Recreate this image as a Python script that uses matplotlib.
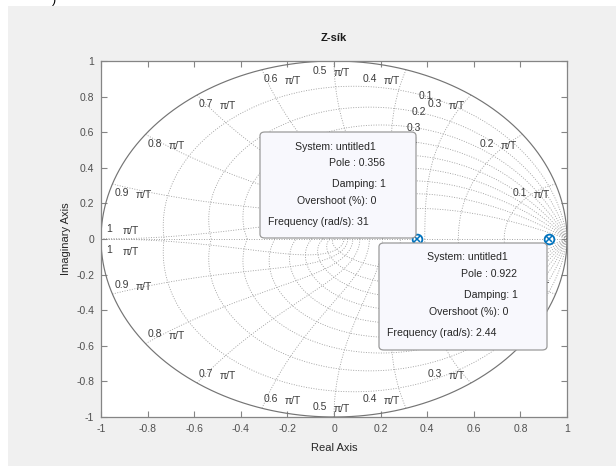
import numpy as np
import matplotlib
matplotlib.use("Agg")
import matplotlib.pyplot as plt
from matplotlib.patches import Rectangle, FancyBboxPatch

plt.rcParams['font.family'] = ['Liberation Sans', 'DejaVu Sans']
plt.rcParams['axes.unicode_minus'] = False

# --- données ---
pole_values = [0.356, 0.922]
pole_damping = ["1", "1"]
pole_overshoot = ["0", "0"]
pole_freq = ["31", "2.44"]
system_name = "untitled1"

zeta_grid = [0.1, 0.2, 0.3, 0.4, 0.5, 0.6, 0.7, 0.8, 0.9]
wn_grid = [0.1, 0.2, 0.3, 0.4, 0.5, 0.6, 0.7, 0.8, 0.9, 1.0]
ticks = [-1, -0.8, -0.6, -0.4, -0.2, 0, 0.2, 0.4, 0.6, 0.8, 1]
tick_labels = ["-1", "-0.8", "-0.6", "-0.4", "-0.2", "0", "0.2", "0.4", "0.6", "0.8", "1"]

W, H = 616, 466
def px(x, y):
    # pixels -> fraction de la figure
    return x / W, 1 - y / H

fig = plt.figure(figsize=(W / 100, H / 100), dpi=100, facecolor='white')
fig.patches.append(Rectangle(px(8, 466), 1, (466 - 6) / H, transform=fig.transFigure,
                             facecolor='#f0f0f0', edgecolor='none', zorder=-10))
fig.text(*px(54, 0), ")", fontsize=9, ha='center', va='center', color='black')

ax = fig.add_axes([101 / W, 1 - 417 / H, (567 - 101) / W, (417 - 61) / H])
ax.set_facecolor('white')

grid_kw = dict(color='#9c9c9c', lw=0.6, dashes=(1.2, 1.8), zorder=1)

# courbes d'amortissement constant
theta = np.linspace(0, np.pi, 300)
for z in zeta_grid:
    r = np.exp(-z * theta / np.sqrt(1 - z ** 2))
    ax.plot(r * np.cos(theta), r * np.sin(theta), **grid_kw)
    ax.plot(r * np.cos(theta), -r * np.sin(theta), **grid_kw)
ax.plot([0, 1], [0, 0], **grid_kw)
ax.plot([-1, 0], [0, 0], **grid_kw)

# courbes de pulsation propre constante
zz = np.linspace(0, 1, 300)
for w in wn_grid:
    s = w * np.pi * (-zz + 1j * np.sqrt(1 - zz ** 2))
    zc = np.exp(s)
    ax.plot(zc.real, zc.imag, **grid_kw)
    ax.plot(zc.real, -zc.imag, **grid_kw)

# cercle unité
t = np.linspace(0, 2 * np.pi, 400)
ax.plot(np.cos(t), np.sin(t), color='#747474', lw=0.85, zorder=2)

# étiquettes d'amortissement (moitié haute)
lab_color = '#3c3c3c'
for z in zeta_grid:
    th = 1.12 * np.sqrt(1 - z ** 2)
    r = np.exp(-z * 1.12)
    ax.text(r * np.cos(th), r * np.sin(th), f"{z:g}", fontsize=7.5, color=lab_color,
            ha='center', va='center', zorder=3)

# étiquettes de pulsation
def wn_label(x, y, dx, dy, val):
    ax.annotate(f"{val:g}", (x, y), xytext=(dx - 11, dy), textcoords='offset pixels',
                fontsize=7.5, color=lab_color, ha='center', va='center', zorder=3)
    ax.annotate("π/T", (x, y), xytext=(dx + 11, dy - 2), textcoords='offset pixels',
                fontsize=7.5, color=lab_color, ha='center', va='center', zorder=3)

for w in wn_grid:
    a = w * np.pi
    x, y = np.cos(a), np.sin(a)
    if x > 0.05:
        dx = -25
    elif x < -0.05:
        dx = 20
    else:
        dx = -3
    if w < 1.0:
        wn_label(x, y, dx, -9.5, w)
        wn_label(x, -y, dx, 9.5, w)
    else:
        wn_label(x, y, 19, 10, w)
        wn_label(x, y, 19, -11, w)

# pôles (marqueurs de data tip)
ax.plot(pole_values, [0] * len(pole_values), ls='none', marker='o', ms=7, mfc='white',
        mec='#0072bd', mew=1.3, zorder=6)
ax.plot(pole_values, [0] * len(pole_values), ls='none', marker='x', ms=4.5,
        color='#0072bd', mew=1.1, zorder=7)

ax.set_xlim(-1, 1)
ax.set_ylim(-1, 1)
ax.set_xticks(ticks)
ax.set_yticks(ticks)
ax.set_xticklabels(tick_labels)
ax.set_yticklabels(tick_labels)
ax.tick_params(direction='in', length=4, width=0.8, colors='#858585', labelcolor='#505050',
               labelsize=7.5, top=True, right=True, pad=5)
for sp in ax.spines.values():
    sp.set_color('#858585')
    sp.set_linewidth(0.9)

fig.text(*px(334, 38), "Z-sík", fontsize=8, fontweight='bold', ha='center', va='center', color='#1a1a1a')
fig.text(*px(334, 448), "Real Axis", fontsize=8, ha='center', va='center', color='#262626')
fig.text(*px(66, 239), "Imaginary Axis", fontsize=8, ha='center', va='center', rotation=90, color='#262626')

# bulles d'information
boxes = [(260, 132, 416, 238), (379, 243, 547, 350)]
line_pos = [
    [(295, 147), (329, 163), (332, 184), (297, 201), (268, 222)],
    [(427, 257), (461, 274), (464, 295), (429, 312), (387, 333)],
]
for i, (x0, y0, x1, y1) in enumerate(boxes):
    bx, by = px(x0, y1)
    bw, bh = (x1 - x0) / W, (y1 - y0) / H
    fig.patches.append(FancyBboxPatch((bx, by), bw, bh, transform=fig.transFigure,
                                      boxstyle="round,pad=0,rounding_size=0.008",
                                      facecolor='#f8f8fd', edgecolor='#9a9a9a', lw=0.9, zorder=5))
    lines = [f"System: {system_name}", f"Pole : {pole_values[i]:g}", f"Damping: {pole_damping[i]}",
             f"Overshoot (%): {pole_overshoot[i]}", f"Frequency (rad/s): {pole_freq[i]}"]
    for txt, (lx, ly) in zip(lines, line_pos[i]):
        fig.text(*px(lx, ly), txt, fontsize=7.6, ha='left', va='center', color='#262626', zorder=6)

fig.savefig("out.png", dpi=100, facecolor=fig.get_facecolor())
